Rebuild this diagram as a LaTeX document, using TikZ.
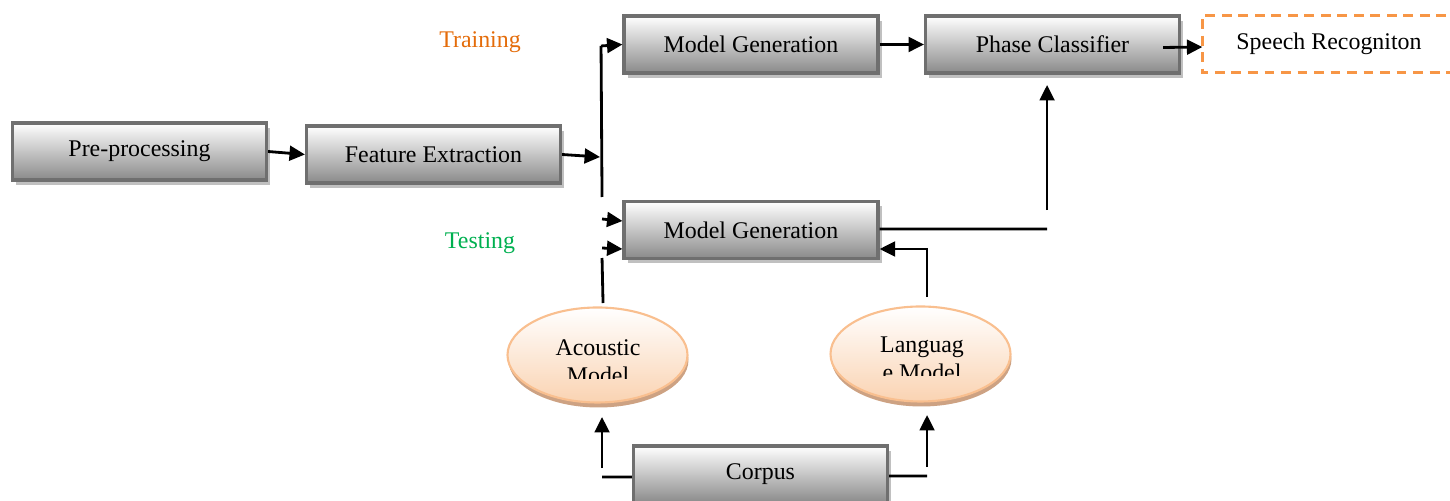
\documentclass[tikz,border=0pt]{standalone}
\usepackage{fontspec}
\setmainfont{Liberation Serif}
\usetikzlibrary{arrows.meta,shadows,shapes.geometric}
\definecolor{boxline}{HTML}{6F6F6F}
\definecolor{boxbot}{HTML}{8A8A8A}
\definecolor{boxshade}{HTML}{C0C0C0}
\definecolor{ellline}{HTML}{F9BF8F}
\definecolor{ellbot}{HTML}{FAD3B2}
\definecolor{ellshade}{HTML}{CDA283}
\definecolor{trainorange}{HTML}{E46C0A}
\definecolor{testgreen}{HTML}{00B050}
\definecolor{speechline}{HTML}{F79646}

\begin{document}
\begin{tikzpicture}[scale=0.1]
\tikzstyle{every node}+=[inner sep=0pt, font=\fontsize{6.8}{8}\selectfont]
\tikzstyle{block}=[rectangle, draw=boxline, line width=0.9pt, top color=white, bottom color=boxbot,
  minimum width=2.54cm, minimum height=0.57cm,
  drop shadow={shadow xshift=0.035cm, shadow yshift=-0.05cm, fill=boxshade, opacity=1}]
\tikzstyle{model}=[ellipse, draw=ellline, line width=0.6pt, top color=white, bottom color=ellbot,
  minimum width=1.8cm, minimum height=0.95cm,
  drop shadow={shadow xshift=0.01cm, shadow yshift=-0.05cm, fill=ellshade, opacity=1}]
\tikzstyle{speechbox}=[draw=speechline, line width=0.85pt, dash pattern=on 2.8pt off 1.9pt]
\tikzstyle{ln}=[line width=0.8pt]
\tikzstyle{arr}=[line width=0.8pt, -{Triangle[length=4.4pt,width=4.2pt]}]
\useasboundingbox (0,0) rectangle (145,-50.1);
%blocks
\node [block] (pre) at (13.95,-15.15) {Pre-processing};
\node [block] (fe) at (43.35,-15.45) {Feature Extraction};
\node [block] (mgtrain) at (75.1,-4.45) {Model Generation};
\node [block] (mgtest) at (75.1,-23.0) {Model Generation};
\node [block] (phase) at (105.25,-4.45) {Phase Classifier};
\node [block] (corpus) at (76.05,-47.45) {Corpus};
\node [rectangle, minimum width=2.52cm, minimum height=0.56cm] (speech) at (132.9,-4.4) {Speech Recogniton};
\draw [speechbox] ([xshift=4cm]speech.north east) -- (speech.north west) -- (speech.south west) -- ([xshift=4cm]speech.south east);
%models
\node [model] (acoustic) at (59.75,-35.5) {};
\node [model] (language) at (92.05,-35.4) {};
\begin{scope}
\clip (50,-30) rectangle (70,-37.9);
\node [align=center, anchor=north] (acoustictxt) at (59.8,-33.9) {Acoustic\\Model};
\end{scope}
\begin{scope}
\clip (82,-30) rectangle (102,-37.6);
\node [align=center, anchor=north] (languagetxt) at (92.2,-33.6) {Languag\\e Model};
\end{scope}
%labels
\node [text=trainorange] (training) at (48,-4.2) {Training};
\node [text=testgreen] (testing) at (48,-24.3) {Testing};
%connectors
\coordinate (split) at (60.0,-15.7);
\coordinate (splittop) at (60.1,-4.6);
\coordinate (splitbot) at (60.2,-19.7);
\coordinate (tin1) at (60.2,-21.9);
\coordinate (tin2) at (60.2,-24.8);
\coordinate (amup) at (60.2,-25.8);
\coordinate (amtop) at (60.3,-30.3);
\coordinate (cl) at (60.2,-47.7);
\coordinate (clup) at (60.2,-46.8);
\coordinate (cltip) at (60.2,-41.7);
\coordinate (cr) at (92.7,-47.6);
\coordinate (crup) at (92.7,-46.7);
\coordinate (crtip) at (92.7,-41.5);
\coordinate (lmtop) at (92.7,-29.7);
\coordinate (pcleft) at (104.7,-22.9);
\coordinate (pcup) at (104.7,-21.0);
\coordinate (pctip) at (104.7,-8.5);
\draw [arr] (pre.east) -- (fe.west);
\draw [arr] (fe.east) -- (split);
\draw [ln] (splittop) -- (splitbot);
\draw [arr] (splittop) -- (mgtrain.west);
\draw [arr] (tin1) -- ([yshift=0.9cm]mgtest.west);
\draw [arr] (tin2) -- ([yshift=-1.9cm]mgtest.west);
\draw [ln] (amtop) -- (amup);
\draw [ln] ([yshift=-0.25cm]corpus.west) -- (cl);
\draw [arr] (clup) -- (cltip);
\draw [ln] ([yshift=-0.15cm]corpus.east) -- (cr);
\draw [arr] (crup) -- (crtip);
\draw [arr] (lmtop) |- ([yshift=-1.9cm]mgtest.east);
\draw [ln] ([yshift=0.1cm]mgtest.east) -- (pcleft);
\draw [arr] (pcup) -- (pctip);
\draw [arr] (mgtrain.east) -- (phase.west);
\draw [arr] ([xshift=-1.8cm,yshift=-0.3cm]phase.east) -- ([yshift=-0.3cm]speech.west);
\end{tikzpicture}
\end{document}
